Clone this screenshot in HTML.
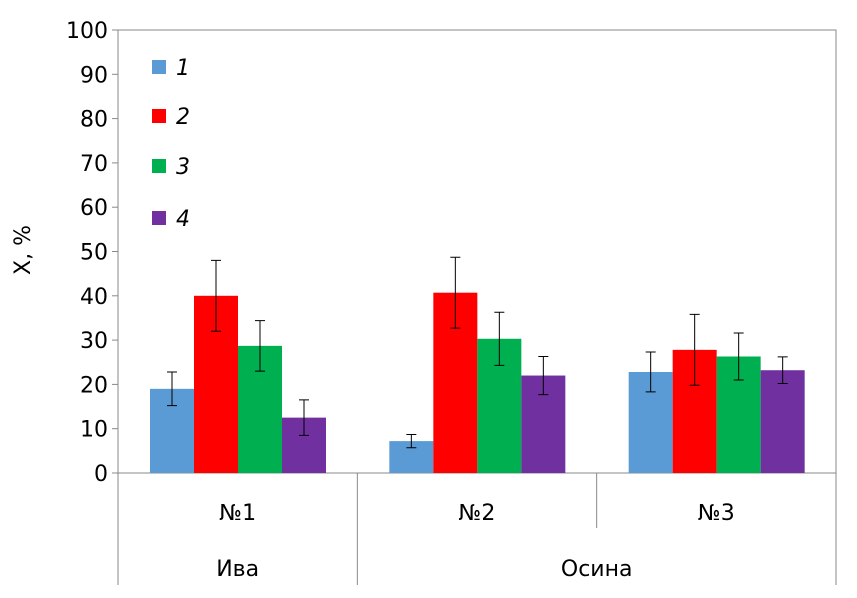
<!DOCTYPE html>
<html><head><meta charset="utf-8"><style>
body{margin:0;background:#fff;}
svg text{font-family:"DejaVu Sans","Liberation Sans",sans-serif;fill:#000;}
</style></head><body>
<svg id="chart" width="857" height="593" xmlns="http://www.w3.org/2000/svg">
<g id="axes"></g><g id="bars"></g><g id="legend"></g>
</svg>
<script>
const categories=["№1","№2","№3"];
const groups=[{name:"Ива",span:[0,1]},{name:"Осина",span:[1,3]}];
const seriesNames=["1","2","3","4"];
const s1=[19,7.2,22.8];
const s2=[40,40.7,27.8];
const s3=[28.7,30.3,26.3];
const s4=[12.5,22,23.2];
const e1=[3.8,1.5,4.5];
const e2=[8,8,8];
const e3=[5.7,6,5.3];
const e4=[4,4.3,3];
const yTicks=[0,10,20,30,40,50,60,70,80,90,100];
const colors=["#5b9bd5","#ff0000","#00b050","#7030a0"];
const NS="http://www.w3.org/2000/svg";
const X0=118,X1=836,Y0=473,Y1=30;
const gw=(X1-X0)/categories.length;
const y=v=>Y0-(v/100)*(Y0-Y1);
function mk(tag,attrs,parent,text){const e=document.createElementNS(NS,tag);for(const k in attrs)e.setAttribute(k,attrs[k]);if(text!==undefined)e.textContent=text;parent.appendChild(e);return e;}
const ax=document.getElementById('axes'),bg=document.getElementById('bars'),lg=document.getElementById('legend');
let a=mk('rect',{x:X0,y:Y1,width:X1-X0,height:Y0-Y1,fill:'none',stroke:'#888','stroke-width':1},ax);


yTicks.forEach(t=>{
 let tl=mk('line',{x1:X0-6,x2:X0,y1:y(t),y2:y(t),stroke:'#888'},ax);
 
 
 let tx=mk('text',{x:X0-10,y:y(t)+8,'text-anchor':'end','font-size':22},ax,t);
 
 
});
let yt=mk('text',{x:0,y:0,'text-anchor':'middle','font-size':22,transform:'translate(30,250) rotate(-90)'},ax,'X, %');


for(let i=0;i<=categories.length;i++){
 const x=X0+i*gw;const bottom=(i===0||i===categories.length||groups.some(g=>g.span[0]===i))?585:528;
 let l=mk('line',{x1:x,x2:x,y1:Y0,y2:bottom,stroke:'#888'},ax);
 
 
}
categories.forEach((c,i)=>{
 let t=mk('text',{x:X0+(i+0.5)*gw,y:520,'text-anchor':'middle','font-size':22},ax,c);
 
 
});
groups.forEach(g=>{
 let t=mk('text',{x:X0+(g.span[0]+g.span[1])/2*gw,y:576,'text-anchor':'middle','font-size':22},ax,g.name);
 
 
});
const series=[s1,s2,s3,s4],errs=[e1,e2,e3,e4];
const bw=44,off=32;
series.forEach((s,k)=>{
 s.forEach((v,i)=>{
  const x=X0+i*gw+off+k*bw;
  let r=mk('rect',{x:x,y:y(v),width:bw,height:Y0-y(v),fill:colors[k]},bg);
  
  
  const cx=x+bw/2,e=errs[k][i];
  let eb=mk('path',{d:`M${cx},${y(v+e)}V${y(v-e)}M${cx-5},${y(v+e)}H${cx+5}M${cx-5},${y(v-e)}H${cx+5}`,stroke:'#000','stroke-width':1,fill:'none'},bg);
  
  
 });
});
const ly=[67,116,166,218];
seriesNames.forEach((n,k)=>{
 let r=mk('rect',{x:152,y:ly[k]-7,width:14,height:14,fill:colors[k]},lg);
 
 
 let t=mk('text',{x:176,y:ly[k]+8,'font-size':22,'font-style':'italic'},lg,n);
 
 
});
</script>
</body></html>
